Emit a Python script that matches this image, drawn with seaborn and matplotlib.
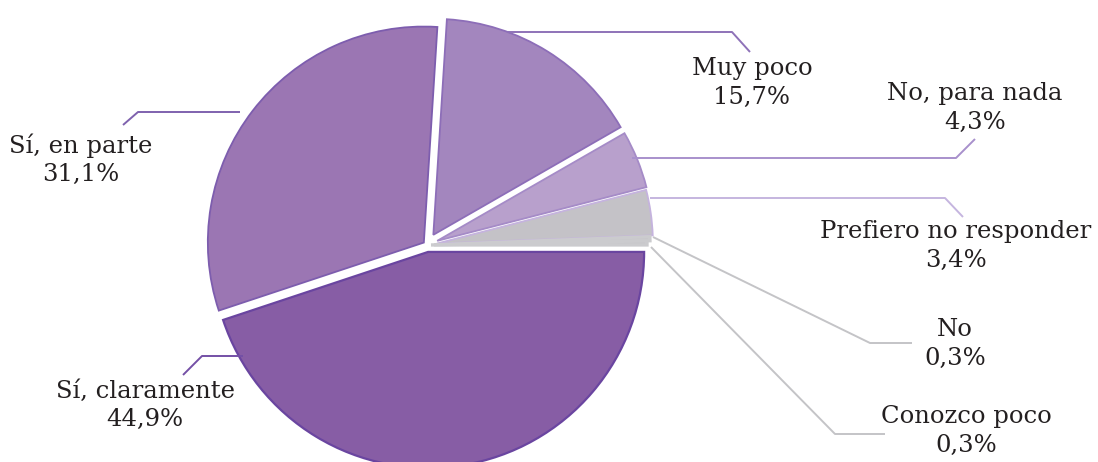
import matplotlib
matplotlib.use("Agg")
import matplotlib.pyplot as plt
import seaborn as sns

# --- data ---
categories = ["Sí, claramente", "Sí, en parte", "Muy poco", "No, para nada",
              "Prefiero no responder", "No", "Conozco poco"]
shares = [44.9, 31.1, 15.7, 4.3, 3.4, 0.3, 0.3]

# --- style ---
fill_colors = ["#875DA5", "#9B76B3", "#A386BE", "#B8A0CC", "#C4C2C7", "#C6C5C9", "#C6C5C9"]
edge_colors = ["#6A45A0", "#7D5DAE", "#8D6EB8", "#A58BC7", "#C5B3DE", "#CBCBCE", "#CBCBCE"]
edge_widths = [1.6, 1.3, 1.3, 1.3, 1.3, 2.4, 2.4]
line_colors = ["#7450A6", "#7F62AE", "#8E72B8", "#A890CC", "#C5B5DF", "#C4C4C7", "#C4C4C7"]
explode_px = [7, 4, 12, 11, 10, 7, 4]   # pie() explode is in data units here

W, H = 1098, 462
R = 216
CENTER = (427, 245)

# label block centres and leader polylines (image pixel coords, y down)
label_pos = [(145, 405), (81, 160), (752, 83), (975, 108), (956, 246), (955, 344), (966, 431)]
leaders = [
    [(243, 356), (202, 356), (183, 375)],
    [(240, 112), (138, 112), (123, 125)],
    [(507, 32), (732, 32), (750, 52)],
    [(632, 158), (956, 158), (975, 139)],
    [(650, 198), (945, 198), (963, 217)],
    [(653, 237), (870, 343), (912, 343)],
    [(651, 247), (835, 434), (885, 434)],
]

sns.set_theme(style="white")
plt.rcParams["font.family"] = ["DejaVu Serif"]


def px(x, y):
    return x, H - y


fig = plt.figure(figsize=(W / 100, H / 100), dpi=100)
ax = fig.add_axes([0, 0, 1, 1])

wedges, _ = ax.pie(
    shares,
    startangle=0,
    counterclock=False,
    colors=fill_colors,
    explode=explode_px,
    radius=R,
    center=px(*CENTER),
)
for w, ec, lw in zip(wedges, edge_colors, edge_widths):
    w.set_edgecolor(ec)
    w.set_linewidth(lw)

for cat, val, pos, pts, lc in zip(categories, shares, label_pos, leaders, line_colors):
    xs, ys = zip(*[px(x, y) for x, y in pts])
    ax.plot(xs, ys, color=lc, lw=1.4, solid_capstyle="butt")
    txt = f"{cat}\n{val:.1f}".replace(".", ",") + "%"
    ax.text(*px(*pos), txt, ha="center", va="center", fontsize=17.5,
            color="#231F20", linespacing=1.28)

ax.set_xlim(0, W)
ax.set_ylim(0, H)
ax.set_aspect("equal")
ax.axis("off")

fig.savefig("out.png", dpi=100, facecolor="white")
